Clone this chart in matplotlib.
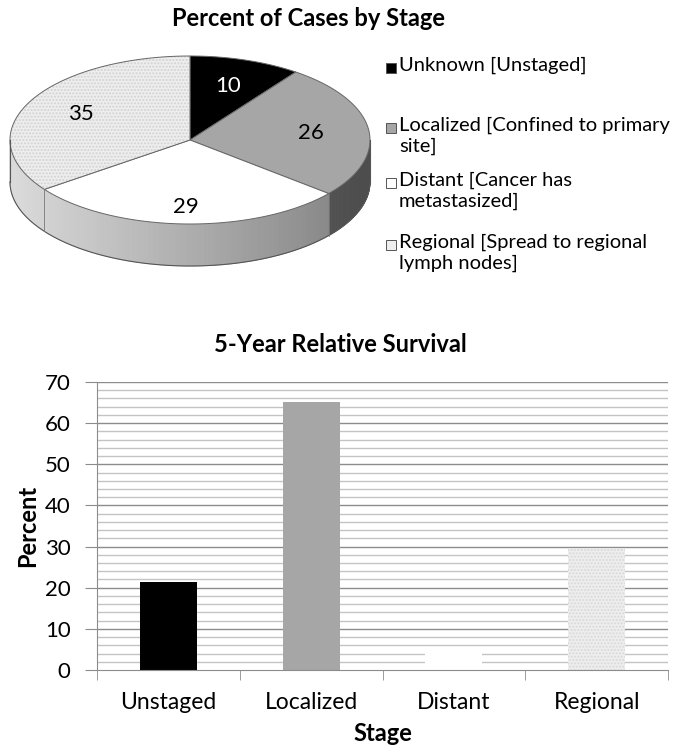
import numpy as np
import matplotlib.pyplot as plt
from matplotlib.patches import Polygon, Rectangle

plt.rcParams['font.family'] = ['Lato', 'DejaVu Sans']

# pie data
stages = ['Unknown', 'Localized', 'Distant', 'Regional']
case_pct = [10, 26, 29, 35]
legend_labels = ['Unknown [Unstaged]',
                 'Localized [Confined to primary\nsite]',
                 'Distant [Cancer has\nmetastasized]',
                 'Regional [Spread to regional\nlymph nodes]']
pie_colors = ['#000000', '#a6a6a6', '#ffffff', '#eeeeee']

# bar data
bar_cats = ['Unstaged', 'Localized', 'Distant', 'Regional']
survival = [21.3, 65.1, 4.1, 29.3]
bar_colors = ['#000000', '#a6a6a6', '#ffffff', '#eeeeee']

fig = plt.figure(figsize=(6.76, 7.56), dpi=100)

# overlay axes in pixel coordinates (y down) for the 3D pie + legend
pa = fig.add_axes([0, 0, 1, 1])
pa.set_xlim(0, 676)
pa.set_ylim(756, 0)
pa.axis('off')
pa.patch.set_visible(False)

cx, cy, rx, ry, depth = 190, 140, 180, 84, 42


def ell(t):
    r = np.radians(t)
    return cx + rx * np.cos(r), cy - ry * np.sin(r)


bounds = [90]
for v in case_pct:
    bounds.append(bounds[-1] - v * 360 / sum(case_pct))

# side wall
for i in range(len(case_pct)):
    a0, a1 = bounds[i], bounds[i + 1]
    lo, hi = max(min(a0, a1), -180), min(max(a0, a1), 0)
    if lo >= hi:
        lo, hi = max(min(a0, a1) + 360, -180), min(max(a0, a1) + 360, 0)
        if lo >= hi:
            continue
    ts = np.linspace(lo, hi, 60)
    for t1, t2 in zip(ts[:-1], ts[1:]):
        x1, y1 = ell(t1)
        x2, y2 = ell(t2)
        f = (1 + np.cos(np.radians((t1 + t2) / 2))) / 2
        if stages[i] == 'Localized':
            g = 0.45 - 0.15 * f
        else:
            g = 0.86 - 0.36 * f
        pa.add_patch(Polygon([(x1, y1), (x2, y2), (x2, y2 + depth), (x1, y1 + depth)],
                             closed=True, facecolor=(g, g, g), edgecolor=(g, g, g), lw=0.6))
ts = np.linspace(-180, 0, 200)
xs, ys = ell(ts)
pa.plot(xs, ys + depth, color='#555555', lw=0.8)
pa.plot([cx - rx, cx - rx], [cy, cy + depth], color='#555555', lw=0.8)
pa.plot([cx + rx, cx + rx], [cy, cy + depth], color='#555555', lw=0.8)
for b in bounds:
    bb = ((b + 180) % 360) - 180
    if -180 < bb < 0:
        x, y = ell(bb)
        pa.plot([x, x], [y, y + depth], color='#777777', lw=0.6)

# top face
for i in range(len(case_pct)):
    ts = np.linspace(bounds[i], bounds[i + 1], 100)
    xs, ys = ell(ts)
    pts = [(cx, cy)] + list(zip(xs, ys))
    if stages[i] == 'Regional':
        pa.add_patch(Polygon(pts, closed=True, facecolor=pie_colors[i],
                             edgecolor='#d2d2d2', lw=0, hatch='.....'))
        pa.add_patch(Polygon(pts, closed=True, facecolor='none',
                             edgecolor='#666666', lw=0.7))
    else:
        pa.add_patch(Polygon(pts, closed=True, facecolor=pie_colors[i],
                             edgecolor='#666666', lw=0.7))
    mid = (bounds[i] + bounds[i + 1]) / 2
    k = 0.68 if stages[i] != 'Distant' else 0.8
    lx, ly = cx + k * rx * np.cos(np.radians(mid)), cy - k * ry * np.sin(np.radians(mid))
    pa.text(lx, ly, str(case_pct[i]), ha='center', va='center', fontsize=16,
            color='white' if pie_colors[i] == '#000000' else 'black')

pa.text(308, 18, 'Percent of Cases by Stage', ha='center', va='center',
        fontsize=17, fontweight='bold')

# legend
leg_y = [68, 128, 183, 245]
for lab, col, y in zip(legend_labels, pie_colors, leg_y):
    pa.add_patch(Rectangle((386, y - 5), 10, 10, facecolor=col, edgecolor='#555555', lw=0.7))
    pa.text(399, y - 11, lab, ha='left', va='top', fontsize=14.5, linespacing=1.2)

pa.text(340, 344, '5-Year Relative Survival', ha='center', va='center',
        fontsize=17, fontweight='bold')

# bar chart
ax = fig.add_axes([97 / 676, 86 / 756, 571 / 676, 288 / 756])
x = np.arange(len(bar_cats))
ax.set_ylim(0, 70)
ax.set_xlim(-0.5, len(bar_cats) - 0.5)
for yv in np.arange(2, 71, 2):
    ax.axhline(yv, color='#8c8c8c' if yv % 10 == 0 else '#c4c4c4', lw=1.0, zorder=0)
bars = ax.bar(x, survival, width=0.4, color=bar_colors, zorder=2)
bars[3].set_hatch('.....')
bars[3].set_edgecolor('#d8d8d8')
bars[3].set_linewidth(0)
ax.set_yticks(np.arange(0, 71, 10))
ax.set_xticks(x)
ax.set_xticklabels(bar_cats, fontsize=16.5)
ax.tick_params(axis='x', length=0, pad=16)
ax.tick_params(axis='y', labelsize=16, color='#8c8c8c', length=9, pad=10)
ax.set_xticks(np.arange(-0.5, len(bar_cats), 1), minor=True)
ax.tick_params(axis='x', which='minor', length=7, color='#8c8c8c', direction='out')
for s in ['top', 'right']:
    ax.spines[s].set_visible(False)
ax.spines['left'].set_color('#8c8c8c')
ax.spines['bottom'].set_color('#8c8c8c')
ax.set_ylabel('Percent', fontsize=17, fontweight='bold', labelpad=4)
ax.set_xlabel('Stage', fontsize=17, fontweight='bold', labelpad=6)

fig.savefig('out.png', dpi=100)
